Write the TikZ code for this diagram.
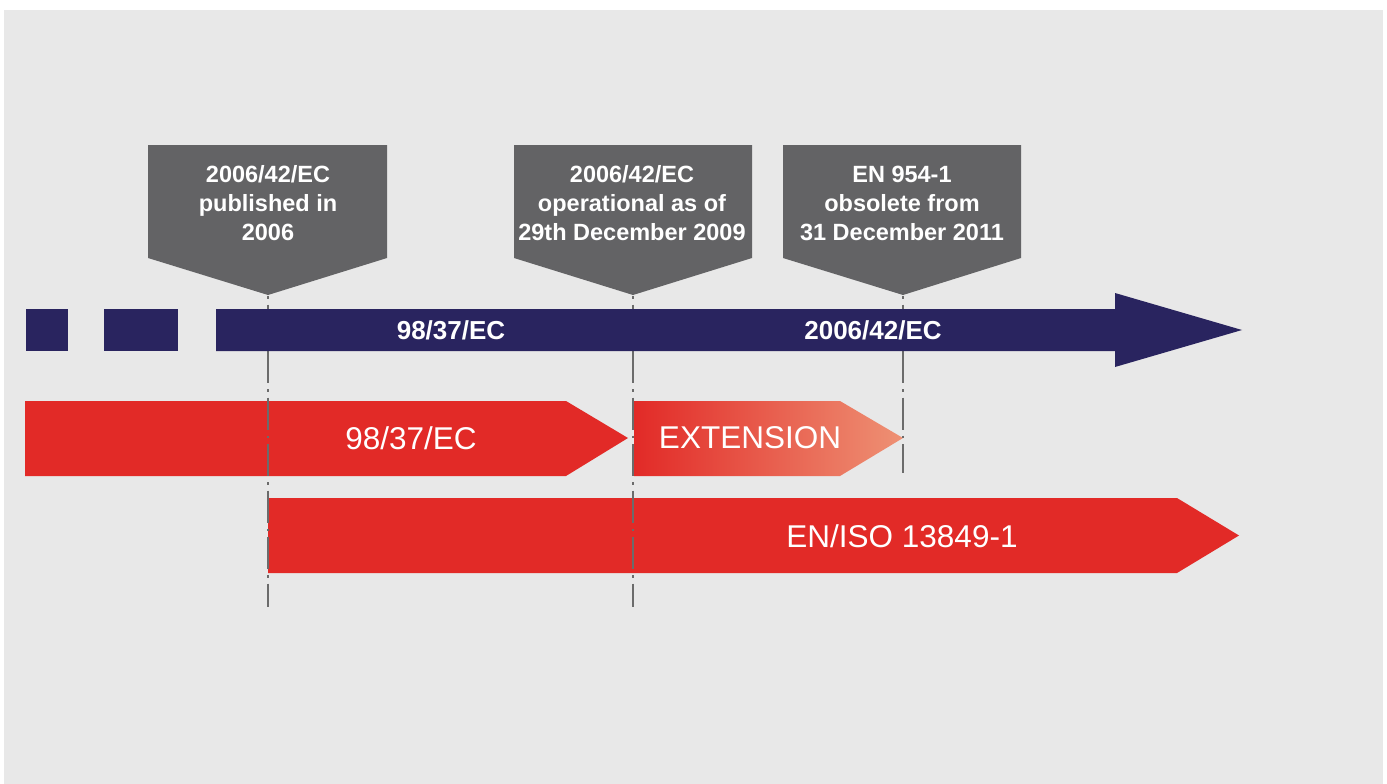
\documentclass[tikz,border=0pt]{standalone}
\usepackage{fontspec}
\setmainfont{Liberation Sans}
\definecolor{bg}{HTML}{E8E8E8}
\definecolor{callgray}{HTML}{636365}
\definecolor{navy}{HTML}{29245F}
\definecolor{redbar}{HTML}{E22A27}
\definecolor{salmon}{HTML}{EE9174}
\definecolor{lineg}{HTML}{6B6B6B}
\tikzset{
  calloutbox/.style={fill=callgray},
  navybar/.style={fill=navy},
  redshape/.style={fill=redbar},
  calltext/.style={text=white, font=\bfseries\fontsize{23.5}{29}\selectfont, align=center, inner sep=0pt},
  bartext/.style={text=white, font=\bfseries\fontsize{26}{30}\selectfont, inner sep=0pt},
  redtext/.style={text=white, font=\fontsize{31.5}{36}\selectfont, inner sep=0pt},
  timeline/.style={draw=lineg, line width=2.5pt, dash pattern=on 32pt off 6pt on 2.5pt off 6pt, dash phase=37pt}
}
\begin{document}
\begin{tikzpicture}[x=1pt,y=-1pt]
\useasboundingbox (0,0) rectangle (1387,784);
\fill[white] (0,0) rectangle (1387,784);
\fill[bg] (4,10) rectangle (1383,784);

% red bars
\fill[redshape] (25,401) -- (566,401) -- (628,438) -- (566,476) -- (25,476) -- cycle;
\shade[left color=redbar, right color=salmon] (634,401) -- (840,401) -- (903,438) -- (840,476) -- (634,476) -- cycle;
\fill[redshape] (268,498) -- (1177,498) -- (1239,535.5) -- (1177,573) -- (268,573) -- cycle;

% timeline coordinates
\coordinate (t1) at (268,295);
\coordinate (t2) at (633,295);
\coordinate (t3) at (903,295);
\coordinate (b1) at (268,607);
\coordinate (b2) at (633,607);
\coordinate (b3) at (903,473);
\draw[timeline] (t1) -- (b1);
\draw[timeline] (t2) -- (b2);
\draw[timeline] (t3) -- (b3);

% navy bar
\fill[navybar] (26,309) rectangle (68,351);
\fill[navybar] (104,309) rectangle (178,351);
\fill[navybar] (216,309) -- (1115,309) -- (1115,293) -- (1242,330) -- (1115,367) -- (1115,351) -- (216,351) -- cycle;

% callouts
\fill[calloutbox] (148,145) -- (387,145) -- (387,258) -- (t1) -- (148,258) -- cycle;
\fill[calloutbox] (514,145) -- (752,145) -- (752,258) -- (t2) -- (514,258) -- cycle;
\fill[calloutbox] (783,145) -- (1021,145) -- (1021,258) -- (t3) -- (783,258) -- cycle;

\node[calltext] (c1) at (268,203) {2006/42/EC\\published in\\2006};
\node[calltext] (c2) at (632,203) {2006/42/EC\\operational as of\\29th December 2009};
\node[calltext] (c3) at (902,203) {EN 954-1\\obsolete from\\31 December 2011};

\node[bartext] (n1) at (451,330) {98/37/EC};
\node[bartext] (n2) at (873,330) {2006/42/EC};

\node[redtext] (r1) at (411,438) {98/37/EC};
\node[redtext] (r2) at (750,438) {EXTENSION};
\node[redtext] (r3) at (902,536) {EN/ISO 13849-1};
\end{tikzpicture}
\end{document}
